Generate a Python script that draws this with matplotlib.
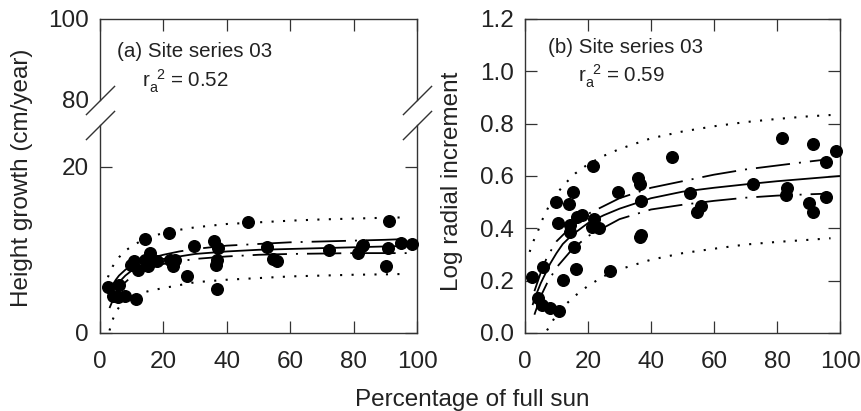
import matplotlib

matplotlib.use("Agg")
import matplotlib.pyplot as plt
import numpy as np

plt.rcParams["font.family"] = ["Liberation Sans", "DejaVu Sans"]
plt.rcParams["mathtext.fontset"] = "custom"
plt.rcParams["mathtext.rm"] = "Liberation Sans"

# (a) height growth vs. light
sun_a = [2.6, 6.0, 4.2, 5.8, 7.9, 11.2, 10.8, 9.8, 12.1, 14.2, 15.8, 14.2, 15.2,
         17.9, 21.8, 22.1, 23.7, 23.1, 27.3, 29.7, 36.1, 37.1, 36.8, 36.7, 36.8,
         46.8, 52.6, 54.7, 55.7, 72.2, 81.5, 82.5, 83.0, 91.3, 90.2, 90.9, 95.0, 98.5]
height = [5.5, 5.8, 4.4, 4.3, 4.4, 4.1, 8.6, 8.2, 7.6, 11.3, 9.6, 8.8, 8.0,
          8.6, 12.0, 8.8, 8.8, 8.0, 6.8, 10.5, 11.0, 10.2, 8.8, 8.2, 5.3,
          13.4, 10.3, 8.9, 8.7, 10.0, 9.6, 10.4, 10.6, 13.5, 8.1, 10.2, 10.8, 10.7]

fit_x_a = [3, 4, 5, 6, 8, 10, 12, 15, 20, 25, 30, 40, 50, 60, 70, 80, 90, 100]
fit_a = [4.2, 5.0, 5.6, 6.1, 6.9, 7.5, 7.9, 8.4, 8.9, 9.2, 9.5, 9.8, 10.0, 10.1,
         10.2, 10.3, 10.4, 10.5]

band_x_a = [3, 4, 5, 6, 8, 10, 12, 15, 20, 25, 30, 40, 50, 60, 70, 80, 90, 97]
ci_hi_a = [5.0, 5.8, 6.4, 6.9, 7.6, 8.1, 8.5, 8.9, 9.4, 9.8, 10.1, 10.5, 10.7,
           10.9, 11.0, 11.1, 11.2, 11.3]
ci_lo_a = [3.0, 3.9, 4.6, 5.2, 6.1, 6.8, 7.2, 7.7, 8.3, 8.6, 8.9, 9.2, 9.4,
           9.5, 9.55, 9.6, 9.6, 9.6]

pi_hi_x_a = [2.5, 3, 4, 5, 6, 8, 10, 13, 16, 20, 25, 30, 40, 50, 60, 70, 80, 90, 97]
pi_hi_a = [6.7, 7.2, 8.0, 8.6, 9.1, 9.9, 10.4, 11.1, 11.6, 12.0, 12.4, 12.7, 13.1,
           13.3, 13.5, 13.65, 13.75, 13.85, 13.9]
pi_lo_x_a = [3, 4, 5, 6, 8, 10, 13, 16, 20, 30, 40, 50, 60, 70, 80, 90, 97]
pi_lo_a = [0.3, 1.6, 2.5, 3.1, 3.8, 4.3, 4.8, 5.1, 5.4, 6.1, 6.4, 6.6, 6.8, 6.9,
           7.0, 7.05, 7.1]

# (b) log radial increment vs. light
sun_b = [2.1, 5.8, 4.0, 5.3, 7.9, 10.9, 12.2, 16.1, 15.7, 10.6, 14.3, 14.3, 9.7,
         14.0, 15.1, 16.4, 18.2, 21.7, 22.0, 21.2, 23.5, 27.0, 29.4, 36.0, 36.5,
         36.8, 36.8, 36.6, 46.6, 52.4, 54.5, 55.8, 72.3, 81.5, 83.1, 82.9, 90.3,
         91.3, 91.5, 95.6, 95.6, 98.7]
log_inc = [0.215, 0.251, 0.133, 0.107, 0.094, 0.084, 0.203, 0.243, 0.327, 0.419,
           0.413, 0.387, 0.502, 0.492, 0.538, 0.442, 0.451, 0.638, 0.434, 0.404,
           0.402, 0.237, 0.540, 0.594, 0.568, 0.506, 0.374, 0.365, 0.674, 0.534,
           0.461, 0.487, 0.569, 0.744, 0.553, 0.527, 0.498, 0.464, 0.722, 0.652,
           0.519, 0.695]

fit_x_b = [2.5, 3, 4, 5, 6, 8, 10, 12, 15, 20, 25, 30, 40, 50, 60, 70, 80, 90, 100]
fit_b = [0.11, 0.13, 0.16, 0.19, 0.215, 0.265, 0.305, 0.34, 0.375, 0.42, 0.45,
         0.475, 0.515, 0.54, 0.555, 0.568, 0.58, 0.59, 0.60]

band_x_b = [3, 5, 7, 10, 15, 20, 30, 40, 50, 60, 70, 80, 90, 97]
ci_hi_b = [0.16, 0.23, 0.29, 0.35, 0.41, 0.455, 0.515, 0.555, 0.58, 0.605, 0.625,
           0.64, 0.655, 0.665]
ci_lo_b = [0.07, 0.14, 0.19, 0.25, 0.32, 0.37, 0.435, 0.472, 0.49, 0.505, 0.517,
           0.525, 0.53, 0.533]

pi_hi_x_b = [1.5, 2, 3, 4, 5, 6, 8, 10, 13, 16, 20, 25, 30, 40, 50, 60, 70, 80, 90, 97]
pi_hi_b = [0.31, 0.33, 0.36, 0.385, 0.42, 0.445, 0.495, 0.532, 0.574, 0.61, 0.645,
           0.677, 0.703, 0.744, 0.77, 0.79, 0.806, 0.818, 0.828, 0.833]
pi_lo_x_b = [7, 8, 10, 13, 16, 20, 25, 30, 40, 50, 60, 70, 80, 90, 97]
pi_lo_b = [0.01, 0.03, 0.07, 0.11, 0.143, 0.18, 0.217, 0.243, 0.28, 0.305, 0.322,
           0.338, 0.348, 0.356, 0.362]

X_TICKS = [0, 20, 40, 60, 80, 100]
TICK_FS = 17.5
NOTE_FS = 14.8
DASHDOT = (0, (19, 5, 1.1, 5))
DOTTED = (0, (1, 4.5))
INK = "#222222"


def style_axes(ax):
    ax.tick_params(direction="in", length=8.5, width=0.9, labelsize=TICK_FS,
                   top=True, right=True, color="#333333", labelcolor=INK)
    ax.tick_params(axis="x", pad=13)
    ax.tick_params(axis="y", pad=8)
    for sp in ax.spines.values():
        sp.set_linewidth(1.0)
        sp.set_color("#333333")


def draw_fit(ax, fx, fy, bx, lo, hi, px_hi, p_hi, px_lo, p_lo):
    ax.plot(fx, fy, "-", color="black", lw=1.3, clip_on=False)
    ax.plot(bx, hi, color="black", lw=1.3, ls=DASHDOT)
    ax.plot(bx, lo, color="black", lw=1.3, ls=DASHDOT)
    ax.plot(px_hi, p_hi, color="black", lw=1.5, ls=DOTTED)
    ax.plot(px_lo, p_lo, color="black", lw=1.5, ls=DOTTED)


fig = plt.figure(figsize=(8.62, 4.11), dpi=100)

# left panel: broken y axis (0-25 below, 80-100 above)
ax_top = fig.add_axes([0.116, 0.7567, 0.3678, 0.1971])
ax_bot = fig.add_axes([0.116, 0.1898, 0.3678, 0.5061])
ax_r = fig.add_axes([0.609, 0.1898, 0.3655, 0.764])

for ax in (ax_top, ax_bot, ax_r):
    style_axes(ax)

ax_top.set_xlim(0, 100)
ax_top.set_ylim(80, 100)
ax_top.set_yticks([80, 100])
ax_top.set_xticks(X_TICKS)
ax_top.tick_params(axis="x", labelbottom=False, bottom=False)
ax_top.tick_params(axis="y", length=0)
ax_top.spines["bottom"].set_visible(False)

ax_bot.set_xlim(0, 100)
ax_bot.set_ylim(0, 25)
ax_bot.set_yticks([0, 20])
ax_bot.set_xticks(X_TICKS)
ax_bot.tick_params(axis="x", top=False)
ax_bot.spines["top"].set_visible(False)

ax_bot.scatter(sun_a, height, s=70, color="black", zorder=3, clip_on=False)
draw_fit(ax_bot, fit_x_a, fit_a, band_x_a, ci_lo_a, ci_hi_a,
         pi_hi_x_a, pi_hi_a, pi_lo_x_a, pi_lo_a)

# break marks on both spines
slash = dict(marker=[(-1, -1), (1, 1)], markersize=21, linestyle="none",
             color="#333333", mec="#333333", mew=1.0, clip_on=False)
ax_top.plot([0, 1], [0, 0], transform=ax_top.transAxes, **slash)
ax_bot.plot([0, 1], [1, 1], transform=ax_bot.transAxes, **slash)

ax_top.text(0.054, 0.593, "(a) Site series 03", transform=ax_top.transAxes,
            fontsize=NOTE_FS, va="center", ha="left", color=INK)
ax_top.text(0.132, 0.23, r"$\mathregular{r_a^{\ \,2}}$ = 0.52",
            transform=ax_top.transAxes, fontsize=NOTE_FS, va="center", ha="left",
            color=INK)

fig.text(0.0255, 0.567, "Height growth (cm/year)", rotation=90, fontsize=TICK_FS,
         ha="center", va="center", color=INK)

# right panel
ax_r.set_xlim(0, 100)
ax_r.set_ylim(0, 1.2)
ax_r.set_xticks(X_TICKS)
ax_r.set_yticks(np.arange(0, 1.21, 0.2))
ax_r.set_yticklabels([f"{v:.1f}" for v in np.arange(0, 1.21, 0.2)])
ax_r.scatter(sun_b, log_inc, s=70, color="black", zorder=3, clip_on=False)
draw_fit(ax_r, fit_x_b, fit_b, band_x_b, ci_lo_b, ci_hi_b,
         pi_hi_x_b, pi_hi_b, pi_lo_x_b, pi_lo_b)

fig.text(0.524, 0.56, "Log radial increment", rotation=90, fontsize=TICK_FS,
         ha="center", va="center", color=INK)

ax_r.text(0.073, 0.908, "(b) Site series 03", transform=ax_r.transAxes,
          fontsize=NOTE_FS, va="center", ha="left", color=INK)
ax_r.text(0.168, 0.818, r"$\mathregular{r_a^{\ \,2}}$ = 0.59",
          transform=ax_r.transAxes, fontsize=NOTE_FS, va="center", ha="left",
          color=INK)

fig.text(0.548, 0.027, "Percentage of full sun", fontsize=TICK_FS,
         ha="center", va="center", color=INK)

fig.savefig("out.png", dpi=100)
